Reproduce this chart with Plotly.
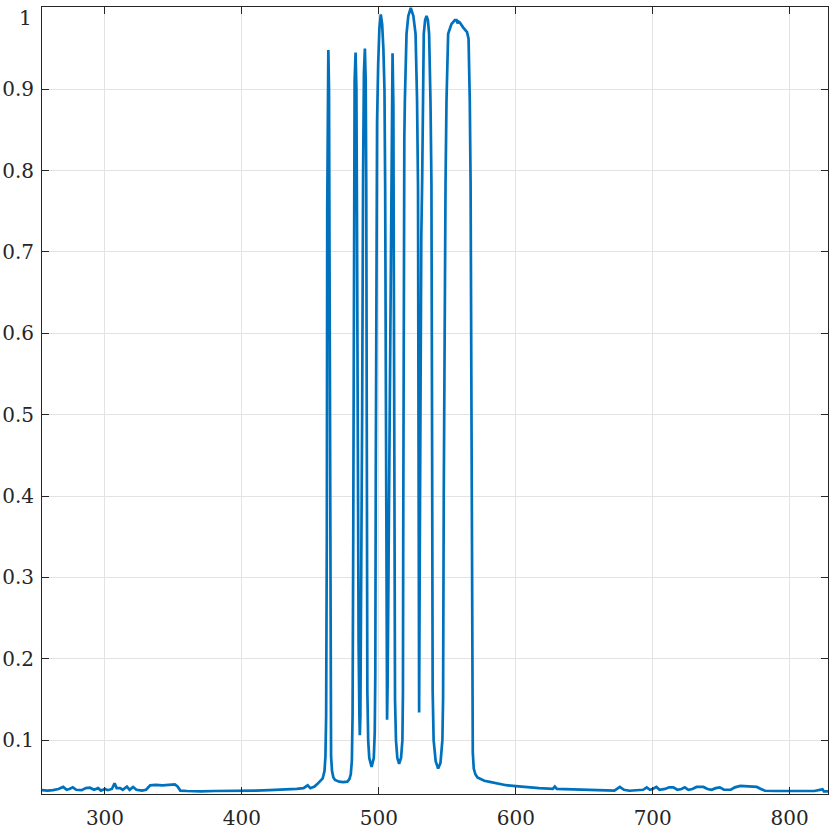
import plotly.graph_objects as go

# Wavelength (nm) and transmittance
wavelength = [
    # baseline, UV side
    254, 258, 262, 266, 269.5, 272, 274, 276.5, 279, 283, 286, 289, 292, 295, 297, 300,
    302, 305, 307, 308.5, 311, 313, 316, 318, 320.5, 323, 327, 330, 333, 337, 342, 347,
    351, 353, 355, 360, 370, 380, 390, 400, 410, 420, 430, 440, 445, 448, 450, 453, 455,
    # pass band
    457, 459, 460.3, 461.0, 461.5, 462.0, 462.3, 462.6, 463.1, 463.6, 463.9, 464.2, 464.6,
    465.1, 465.8, 466.8, 468, 471, 474, 477, 478.5, 479.5, 480.3, 480.8, 481.3, 481.8,
    482.3, 483.0, 483.6, 484.0, 484.5, 485.2, 485.8, 486.1, 486.5, 487.1, 487.8, 488.5,
    489.1, 489.8, 490.4, 490.8, 491.2, 491.6, 492.2, 493.0, 494.7, 496.3, 497.0, 497.4,
    497.8, 498.2, 498.7, 499.5, 500.4, 501.4, 502.4, 503.3, 504.1, 504.6, 505.1, 505.6,
    506.0, 506.4, 507.2, 508.2, 509.2, 510.0, 510.6, 511.0, 511.4, 511.8, 512.5, 513.5,
    514.8, 516.2, 517.2, 517.6, 517.8, 518.1, 518.6, 519.0, 519.6, 520.2, 521.5, 523.3,
    525.2, 526.8, 527.9, 528.6, 529.0, 529.4, 529.8, 530.5, 531.0, 531.6, 532.3, 532.8,
    533.8, 534.8, 535.8, 536.7, 537.7, 538.4, 538.9, 539.3, 540.0, 541.5, 543.3, 545.0,
    546.4, 546.9, 547.4, 548.0, 548.7, 549.4, 550.6, 553.0, 555.5, 556.7, 557.5, 558.2,
    559.1, 561.5, 564.4, 565.5, 566.4, 567.0, 567.5, 568.0, 568.6, 569.3, 570.5, 572,
    # tail and baseline, IR side
    574, 577, 581, 587, 593, 600,
    608, 617, 627, 628.5, 630, 641, 650, 660, 666, 672, 676, 679, 683, 690, 693, 695.6,
    698, 700, 702.7, 705, 709, 712, 715, 718, 721, 723.4, 726, 729, 732, 737, 740, 743,
    746, 749, 752, 757, 760, 764, 768, 772, 776, 779, 782, 790, 800, 810, 818, 824, 825, 828,
]
transmittance = [
    0.0385, 0.038, 0.0385, 0.040, 0.0425, 0.039, 0.040, 0.042, 0.039, 0.0385, 0.041, 0.0415, 0.039, 0.041, 0.038, 0.040,
    0.0385, 0.040, 0.047, 0.041, 0.041, 0.039, 0.043, 0.039, 0.0425, 0.039, 0.038, 0.039, 0.0445, 0.045, 0.0445, 0.045,
    0.0455, 0.043, 0.038, 0.0375, 0.037, 0.0375, 0.0375, 0.038, 0.038, 0.0385, 0.039, 0.040, 0.041, 0.0445, 0.041, 0.043, 0.046,
    0.049, 0.053, 0.062, 0.08, 0.13, 0.35, 0.75, 0.90, 0.948, 0.90, 0.75, 0.35, 0.13,
    0.08, 0.062, 0.054, 0.051, 0.049, 0.0485, 0.049, 0.052, 0.058, 0.075, 0.13, 0.35, 0.75,
    0.91, 0.945, 0.90, 0.75, 0.45, 0.22, 0.13, 0.106, 0.13, 0.25, 0.50, 0.80,
    0.92, 0.950, 0.91, 0.78, 0.40, 0.16, 0.10, 0.078, 0.067, 0.078, 0.11, 0.18,
    0.45, 0.75, 0.86, 0.93, 0.975, 0.992, 0.98, 0.95, 0.90, 0.78, 0.45, 0.20,
    0.125, 0.17, 0.35, 0.65, 0.88, 0.944, 0.88, 0.60, 0.25, 0.15, 0.10, 0.078,
    0.071, 0.078, 0.10, 0.16, 0.35, 0.75, 0.84, 0.886, 0.93, 0.968, 0.99, 1.0,
    0.99, 0.968, 0.886, 0.78, 0.45, 0.134, 0.30, 0.60, 0.72, 0.784, 0.886, 0.968,
    0.985, 0.99, 0.985, 0.968, 0.886, 0.784, 0.45, 0.16, 0.10, 0.074, 0.065, 0.072,
    0.10, 0.151, 0.40, 0.70, 0.784, 0.886, 0.968, 0.980, 0.985, 0.985, 0.981, 0.983,
    0.982, 0.976, 0.970, 0.962, 0.886, 0.784, 0.45, 0.15, 0.085, 0.065, 0.058, 0.054,
    0.052, 0.050, 0.0487, 0.0465, 0.0446, 0.0435,
    0.042, 0.041, 0.040, 0.043, 0.040, 0.0396, 0.039, 0.0385, 0.038, 0.038, 0.0425, 0.039, 0.0378, 0.038, 0.039, 0.042,
    0.039, 0.040, 0.0425, 0.039, 0.040, 0.042, 0.042, 0.039, 0.040, 0.042, 0.039, 0.040, 0.0425, 0.0425, 0.040, 0.039,
    0.041, 0.042, 0.039, 0.039, 0.042, 0.0438, 0.0435, 0.043, 0.0425, 0.040, 0.0378, 0.0375, 0.0375, 0.037, 0.0375, 0.0395, 0.037, 0.037,
]

x_ticks = [300, 400, 500, 600, 700, 800]
y_ticks = [0.1, 0.2, 0.3, 0.4, 0.5, 0.6, 0.7, 0.8, 0.9, 1.0]
y_tick_labels = ["0.1", "0.2", "0.3", "0.4", "0.5", "0.6", "0.7", "0.8", "0.9", "1"]

SERIF = "DejaVu Serif"
TICK_FONT = dict(family=SERIF, size=20, color="#262626")

fig = go.Figure()
fig.add_trace(go.Scatter(
    x=wavelength, y=transmittance, mode="lines",
    line=dict(color="#0072BD", width=2.7),
    showlegend=False, hoverinfo="x+y",
))

axis_common = dict(
    showline=True, linecolor="#262626", linewidth=1, mirror="ticks",
    ticks="inside", ticklen=7, tickcolor="#262626", tickwidth=1,
    showgrid=True, gridcolor="#e3e3e3", gridwidth=1, zeroline=False,
    automargin=False, ticklabeloverflow="allow", tickfont=TICK_FONT,
)

# the top tick label sits at the very edge of the page, so it is drawn as an
# annotation nudged down (as in the reference) instead of being clipped
shown_y_labels = y_tick_labels[:-1] + [""]

fig.update_layout(
    width=830, height=830, autosize=False,
    margin=dict(l=42, r=2, t=7, b=36),
    paper_bgcolor="white", plot_bgcolor="white",
    font=dict(family=SERIF, size=20, color="#262626"),
    xaxis=dict(range=[254, 828], tickvals=x_ticks, ticklabelstandoff=6, **axis_common),
    yaxis=dict(range=[0.0338, 1.001], tickvals=y_ticks, ticktext=shown_y_labels,
               ticklabelstandoff=3, **axis_common),
    annotations=[dict(
        text=y_tick_labels[-1], xref="paper", x=0, xanchor="right", xshift=-9,
        yref="y", y=y_ticks[-1], yanchor="top", yshift=3, showarrow=False,
        font=TICK_FONT, borderpad=0,
    )],
)

fig.write_html(
    "out.html",
    config={"responsive": False, "displayModeBar": False},
    post_script="document.body.style.margin='0';document.body.style.overflow='hidden';",
)
